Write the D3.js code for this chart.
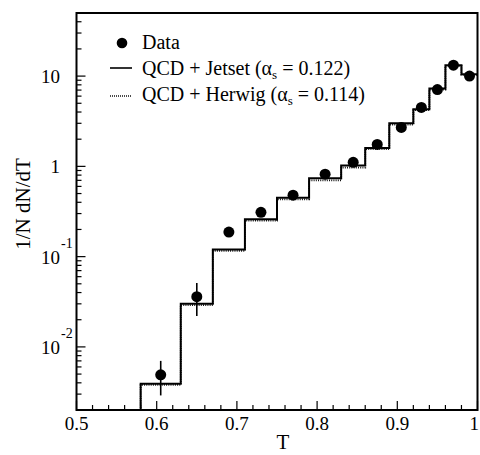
<!DOCTYPE html>
<html><head><meta charset="utf-8">
<script src="https://cdn.jsdelivr.net/npm/d3@7"></script>
<style>body{margin:0;background:#fff}svg{display:block}text{font-family:"Liberation Serif","Times New Roman",serif;fill:#000}</style>
</head><body><div id="chart"></div>
<script>
// ---- data ----
const binEdges = [0.58,0.63,0.67,0.71,0.75,0.79,0.83,0.86,0.89,0.92,0.94,0.96,0.98,1.0];
const jetset = [0.0039,0.030,0.12,0.26,0.45,0.74,1.02,1.6,3.0,4.3,7.3,13.2,10.5];
const herwig = [0.0038,0.029,0.116,0.25,0.43,0.70,0.97,1.55,2.9,4.2,7.1,13.0,10.3];
const dataT = [0.605,0.65,0.69,0.73,0.77,0.81,0.845,0.875,0.905,0.93,0.95,0.97,0.99];
const dataY = [0.0049,0.036,0.187,0.31,0.48,0.82,1.11,1.75,2.7,4.5,7.1,13.2,10.0];
const errLo = [0.0029,0.022,0.165,0.29,0.455,0.78,1.06,1.68,2.6,4.35,6.9,12.8,9.7];
const errHi = [0.0070,0.051,0.21,0.33,0.505,0.86,1.16,1.82,2.8,4.65,7.3,13.6,10.3];
const xTicks = [0.5,0.6,0.7,0.8,0.9,1.0];
const xTickLabels = ["0.5","0.6","0.7","0.8","0.9","1"];
const yDecades = [0.01,0.1,1,10];
const yBaseLabels = ["10","10","1","10"];
const yExpLabels = ["-2","-1","",""];
const legendLabels = ["Data","QCD + Jetset (α","QCD + Herwig (α"];
const legendAlphaValues = ["","0.122","0.114"];

const W=480,H=455;
const svg=d3.select("#chart").append("svg").attr("width",W).attr("height",H);
const x=d3.scaleLinear().domain([0.5,1.0]).range([76.5,477.5]);
const y=d3.scaleLog().domain([0.002,50]).range([410,13]);

// frame
svg.append("rect").attr("x",x(0.5)).attr("y",y(50)).attr("width",x(1)-x(0.5)).attr("height",y(0.002)-y(50))
  .attr("fill","none").attr("stroke","#000").attr("stroke-width",2);

// x ticks
const xMinor=d3.range(0.52,1.0,0.02).filter(v=>Math.abs(v*10-Math.round(v*10))>1e-6);
svg.selectAll(".xmin").data(xMinor).enter().append("line")
  .attr("x1",d=>x(d)).attr("x2",d=>x(d)).attr("y1",410).attr("y2",405).attr("stroke","#000").attr("stroke-width",1.2);
svg.selectAll(".xmaj").data(xTicks).enter().append("line")
  .attr("x1",d=>x(d)).attr("x2",d=>x(d)).attr("y1",410).attr("y2",401).attr("stroke","#000").attr("stroke-width",1.2);
svg.selectAll(".xlab").data(xTicks).enter().append("text")
  .attr("x",d=>d===1?479:x(d)).attr("y",430).attr("text-anchor",d=>d===1?"end":"middle").attr("font-size",19)
  .text((d,i)=>xTickLabels[i]);

// y ticks
const yMinor=[];
[0.001,0.01,0.1,1,10].forEach(b=>{for(let k=2;k<=9;k++){const v=b*k;if(v>=0.002&&v<=50)yMinor.push(v);}});
svg.selectAll(".ymin").data(yMinor).enter().append("line")
  .attr("x1",x(0.5)).attr("x2",x(0.5)+5).attr("y1",d=>y(d)).attr("y2",d=>y(d)).attr("stroke","#000").attr("stroke-width",1.2);
svg.selectAll(".ymaj").data(yDecades).enter().append("line")
  .attr("x1",x(0.5)).attr("x2",x(0.5)+9).attr("y1",d=>y(d)).attr("y2",d=>y(d)).attr("stroke","#000").attr("stroke-width",1.2);
yDecades.forEach((d,i)=>{
  svg.append("text").attr("x",60).attr("y",y(d)+7).attr("text-anchor","end").attr("font-size",19).text(yBaseLabels[i]);
  if(yExpLabels[i]) svg.append("text").attr("x",61).attr("y",y(d)-9).attr("font-size",14).text(yExpLabels[i]);
});

// axis titles
svg.append("text").attr("transform","translate(30,204) rotate(-90)").attr("text-anchor","middle").attr("font-size",21).text("1/N dN/dT");
svg.append("text").attr("x",283).attr("y",449).attr("text-anchor","middle").attr("font-size",21).text("T");

// histograms
function histPath(vals){
  const p=d3.path();
  p.moveTo(x(binEdges[0]),y(0.002));
  vals.forEach((v,i)=>{p.lineTo(x(binEdges[i]),y(v));p.lineTo(x(binEdges[i+1]),y(v));});
  return p.toString();
}
svg.append("path").attr("d",histPath(herwig)).attr("fill","none").attr("stroke","#111").attr("stroke-width",1.8).attr("stroke-dasharray","1,1.2");
svg.append("path").attr("d",histPath(jetset)).attr("fill","none").attr("stroke","#000").attr("stroke-width",2);

// data
svg.selectAll(".err").data(dataT).enter().append("line")
  .attr("x1",d=>x(d)).attr("x2",d=>x(d)).attr("y1",(d,i)=>y(errLo[i])).attr("y2",(d,i)=>y(errHi[i]))
  .attr("stroke","#000").attr("stroke-width",1.6);
svg.selectAll(".pt").data(dataT).enter().append("circle")
  .attr("cx",d=>x(d)).attr("cy",(d,i)=>y(dataY[i])).attr("r",5.5).attr("fill","#000");

// legend
svg.append("circle").attr("cx",122).attr("cy",43).attr("r",5.3).attr("fill","#000");
svg.append("line").attr("x1",110).attr("x2",132).attr("y1",68).attr("y2",68).attr("stroke","#000").attr("stroke-width",1.6);
svg.append("line").attr("x1",110).attr("x2",132).attr("y1",96).attr("y2",96).attr("stroke","#111").attr("stroke-width",1.3).attr("stroke-dasharray","1,1");
const ly=[49,75,101];
legendLabels.forEach((t,i)=>{
  const tx=svg.append("text").attr("x",142).attr("y",ly[i]).attr("font-size",20);
  tx.append("tspan").text(t);
  if(i>0){
    tx.append("tspan").attr("font-size",13).attr("dy",4).text("s");
    tx.append("tspan").attr("dy",-4).text(" = "+legendAlphaValues[i]+")");
  }
});
</script></body></html>
